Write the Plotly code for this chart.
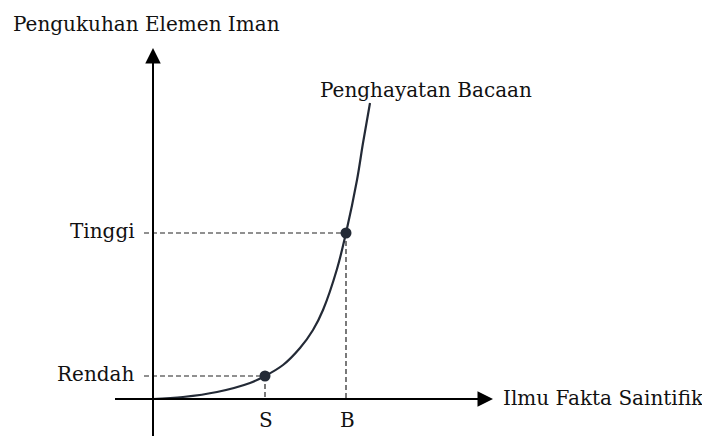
import plotly.graph_objects as go

# curve (x: ilmu fakta saintifik, y: pengukuhan elemen iman)
CURVE_X = [0.0, 3.0, 6.4, 9.7, 11.2, 13.0, 14.7, 16.0, 17.0, 18.4, 19.3, 20.4, 21.0, 21.7]
CURVE_Y = [0.0, 0.2, 0.7, 1.6, 2.3, 3.4, 5.1, 6.9, 8.9, 13.0, 16.6, 21.9, 25.6, 29.6]

POINT_LABELS = ['S', 'B']
POINT_X = [11.2, 19.3]
POINT_Y = [2.3, 16.6]
LEVEL_LABELS = ['Rendah', 'Tinggi']

X_AXIS_END = 34.0
Y_AXIS_END = 35.1

INK = '#232a36'
FONT = dict(family='DejaVu Serif', size=20, color='#111111')

fig = go.Figure()

# dashed guides from each point to both axes
for px, py in zip(POINT_X, POINT_Y):
    fig.add_trace(go.Scatter(x=[-0.9, px], y=[py, py], mode='lines',
                             line=dict(color='#222222', width=1.2, dash='5px,3px'),
                             hoverinfo='skip', showlegend=False))
    fig.add_trace(go.Scatter(x=[px, px], y=[py, 0], mode='lines',
                             line=dict(color='#222222', width=1.2, dash='5px,3px'),
                             hoverinfo='skip', showlegend=False))

# axes with arrow heads
fig.add_shape(type='line', x0=-3.8, y0=0, x1=X_AXIS_END - 1.5, y1=0,
              line=dict(color='black', width=2))
fig.add_shape(type='line', x0=0, y0=-4, x1=0, y1=Y_AXIS_END - 1.5,
              line=dict(color='black', width=2))
fig.add_trace(go.Scatter(x=[X_AXIS_END], y=[0], mode='markers',
                         marker=dict(symbol='arrow-right', size=15.5, color='black'),
                         hoverinfo='skip', showlegend=False))
fig.add_trace(go.Scatter(x=[0], y=[Y_AXIS_END], mode='markers',
                         marker=dict(symbol='arrow-up', size=15.5, color='black'),
                         hoverinfo='skip', showlegend=False))

fig.add_trace(go.Scatter(x=CURVE_X, y=CURVE_Y, mode='lines',
                         line=dict(color=INK, width=2.2, shape='spline', smoothing=1.0),
                         hoverinfo='skip', showlegend=False))
fig.add_trace(go.Scatter(x=POINT_X, y=POINT_Y, mode='markers',
                         marker=dict(size=11, color=INK),
                         hoverinfo='skip', showlegend=False))

labels = [
    dict(x=-14.2, y=37.5, text='Pengukuhan Elemen Iman', xanchor='left'),
    dict(x=CURVE_X[-1] + 5.6, y=30.9, text='Penghayatan Bacaan', xanchor='center'),
    dict(x=X_AXIS_END + 0.8, y=0.1, text='Ilmu Fakta Saintifik', xanchor='left'),
]
for lvl, py in zip(LEVEL_LABELS, POINT_Y):
    labels.append(dict(x=-1.6, y=py + 0.2, text=lvl, xanchor='right'))
for name, px in zip(POINT_LABELS, POINT_X):
    labels.append(dict(x=px + 0.1, y=-2.1, text=name, xanchor='center'))
for a in labels:
    fig.add_annotation(x=a['x'], y=a['y'], text=a['text'], xanchor=a['xanchor'],
                       yanchor='middle', showarrow=False, font=FONT)

fig.update_layout(
    width=702, height=436,
    margin=dict(l=0, r=0, t=0, b=0),
    paper_bgcolor='white', plot_bgcolor='white',
    xaxis=dict(range=[-15.3, 54.9], visible=False, fixedrange=True),
    yaxis=dict(range=[-3.7, 39.9], visible=False, fixedrange=True),
)

fig.write_html("out.html", config={'displayModeBar': False},
               post_script="document.body.style.margin='0';")
